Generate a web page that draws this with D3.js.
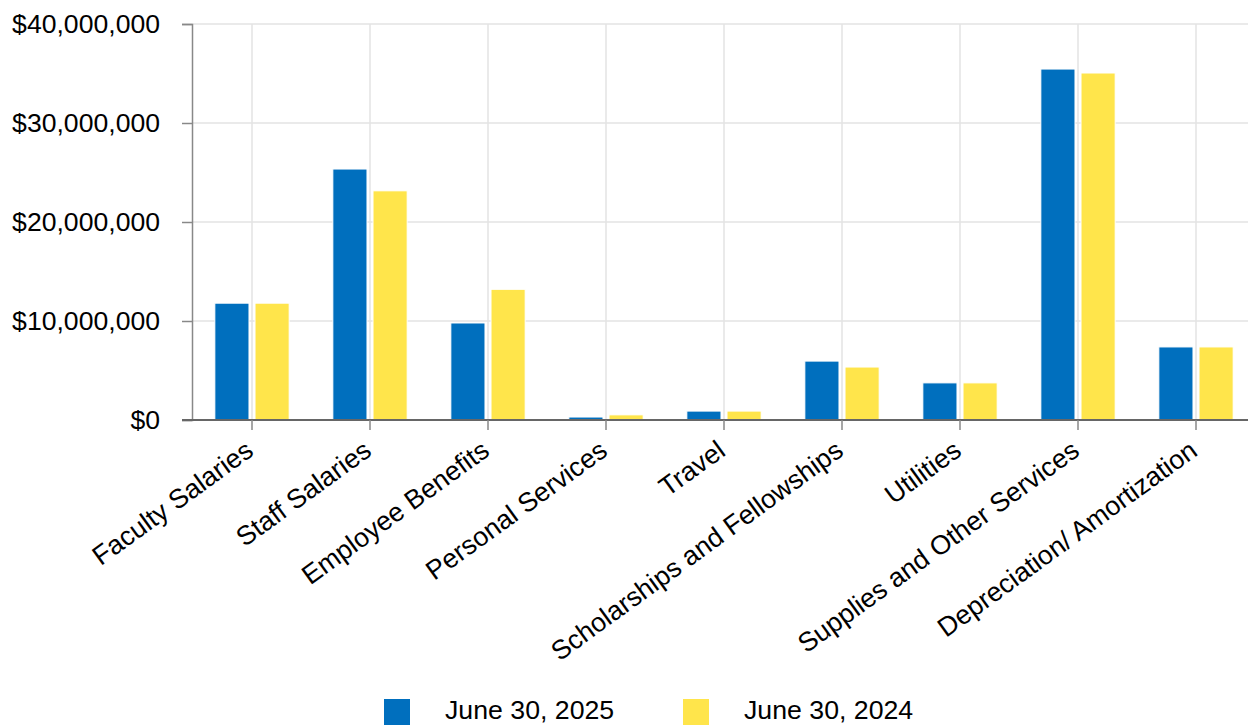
<!DOCTYPE html>
<meta charset="utf-8">
<head>
    <script src="https://d3js.org/d3.v7.min.js"></script>
    <title>Expenses</title>
</head>
<body style="margin:0;background:#fff">
    <div id="chart"></div>
</body>
<style>
    body { font-family: 'Liberation Sans', Arial, sans-serif; }
    svg { display: block; }
</style>
<script>
    // data
    var categories = ["Faculty Salaries", "Staff Salaries", "Employee Benefits", "Personal Services",
        "Travel", "Scholarships and Fellowships", "Utilities", "Supplies and Other Services",
        "Depreciation/ Amortization"];
    var seriesNames = ["June 30, 2025", "June 30, 2024"];
    var values2025 = [11800000, 25350000, 9800000, 300000, 900000, 5950000, 3750000, 35450000, 7380000];
    var values2024 = [11800000, 23150000, 13200000, 520000, 900000, 5350000, 3750000, 35050000, 7380000];
    var yTicks = [0, 10000000, 20000000, 30000000, 40000000];
    var colors = ["#006fbe", "#ffe54b"];

    var W = 1248, H = 726;
    var svg = d3.select("#chart").append("svg")
        .attr("width", W).attr("height", H);

    var x0 = d3.scaleBand()
        .domain(categories)
        .range([193, 1255])
        .paddingInner(0.37)
        .paddingOuter(0.185);

    var x1 = d3.scaleBand()
        .domain(seriesNames)
        .range([0, x0.bandwidth()])
        .paddingInner(0.15);

    var y = d3.scaleLinear()
        .domain([0, 40000000])
        .range([420, 24]);

    var fmt = function (v) { return "$" + d3.format(",")(v); };

    // horizontal grid
    svg.append("g")
        .selectAll("line")
        .data(yTicks)
        .enter().append("line")
        .attr("x1", 192).attr("x2", W)
        .attr("y1", function (d) { return y(d); })
        .attr("y2", function (d) { return y(d); })
        .attr("stroke", "#e3e3e3").attr("stroke-width", 1.5);

    // vertical grid at category centres
    svg.append("g")
        .selectAll("line")
        .data(categories)
        .enter().append("line")
        .attr("x1", function (d) { return x0(d) + x0.bandwidth() / 2; })
        .attr("x2", function (d) { return x0(d) + x0.bandwidth() / 2; })
        .attr("y1", 24).attr("y2", 420)
        .attr("stroke", "#e3e3e3").attr("stroke-width", 1.5);

    // bars
    var rows = categories.map(function (c, i) {
        return { cat: c, vals: [values2025[i], values2024[i]] };
    });

    svg.append("g")
        .selectAll("g")
        .data(rows)
        .enter().append("g")
        .attr("transform", function (d) { return "translate(" + x0(d.cat) + ",0)"; })
        .selectAll("rect")
        .data(function (d) {
            return d.vals.map(function (v, j) { return { key: seriesNames[j], v: v, j: j }; });
        })
        .enter().append("rect")
        .attr("x", function (d) { return x1(d.key); })
        .attr("width", x1.bandwidth())
        .attr("y", function (d) { return y(d.v); })
        .attr("height", function (d) { return y(0) - y(d.v); })
        .attr("fill", function (d) { return colors[d.j]; })
        .attr("stroke", "#fff").attr("stroke-width", 1);

    // y axis
    var yAxis = svg.append("g")
        .attr("transform", "translate(192,0)")
        .call(d3.axisLeft(y).tickValues(yTicks).tickFormat(fmt).tickSize(10).tickPadding(22));
    yAxis.select(".domain").attr("stroke", "#888").attr("stroke-width", 1.5);
    yAxis.selectAll(".tick line").attr("stroke", "#888").attr("stroke-width", 1.5);
    yAxis.selectAll(".tick text")
        .attr("fill", "#000")
        .style("font-size", "26.6px")
        .style("font-family", "'Liberation Sans', Arial, sans-serif");

    // x axis
    var xAxis = svg.append("g")
        .attr("transform", "translate(0,420)")
        .call(d3.axisBottom(x0).tickSize(10).tickSizeOuter(0).tickFormat(""));
    xAxis.select(".domain").attr("stroke", "#666").attr("stroke-width", 2)
        .attr("d", "M182,0H" + W);
    xAxis.selectAll(".tick line").attr("stroke", "#888").attr("stroke-width", 1.5);

    svg.append("g")
        .selectAll("text")
        .data(categories)
        .enter().append("text")
        .attr("transform", function (d) {
            return "translate(" + (x0(d) + x0.bandwidth() / 2 - 8) + ",439) rotate(-36)";
        })
        .attr("text-anchor", "end")
        .attr("dy", "0.7em")
        .style("font-size", "26.8px")
        .style("font-family", "'Liberation Sans', Arial, sans-serif")
        .text(function (d) { return d; });

    // legend
    var legendX = [384, 683];
    var legend = svg.append("g")
        .selectAll("g")
        .data(seriesNames)
        .enter().append("g")
        .attr("transform", function (d, i) { return "translate(" + legendX[i] + ",699)"; });
    legend.append("rect")
        .attr("width", 26).attr("height", 26)
        .attr("fill", function (d, i) { return colors[i]; });
    legend.append("text")
        .attr("x", 61).attr("y", 20)
        .style("font-size", "26.7px")
        .style("font-family", "'Liberation Sans', Arial, sans-serif")
        .text(function (d) { return d; });
</script>
